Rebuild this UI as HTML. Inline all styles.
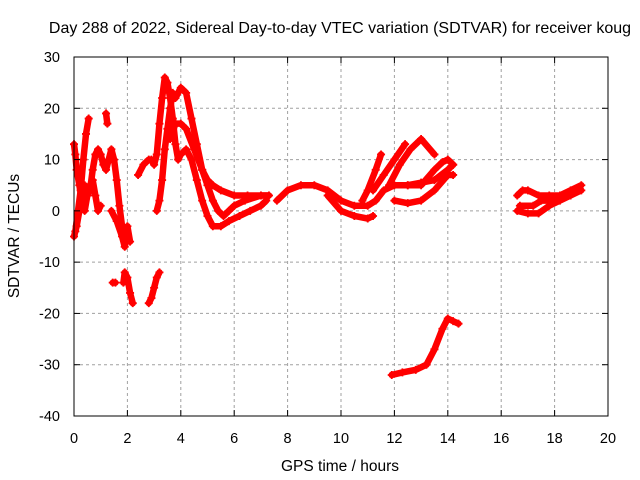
<!DOCTYPE html>
<html><head><meta charset="utf-8"><style>
body{margin:0;background:#fff}
svg{display:block;font-family:"Liberation Sans",sans-serif}
</style></head><body>
<svg id="chart" width="640" height="480">
<text x="340" y="33" font-size="16" text-anchor="middle">Day 288 of 2022, Sidereal Day-to-day VTEC variation (SDTVAR) for receiver koug</text>
<g id="grid"></g>
<g id="series"></g>
<rect x="74" y="57" width="534" height="359" fill="none" stroke="#000" stroke-width="1"/>
<g id="axes"></g>
<text x="340" y="471" font-size="15.5" text-anchor="middle">GPS time / hours</text>
<text transform="translate(19,236) rotate(-90)" font-size="15.5" text-anchor="middle">SDTVAR / TECUs</text>
</svg>
<script>
const xTicks=[0,2,4,6,8,10,12,14,16,18,20];
const yTicks=[30,20,10,0,-10,-20,-30,-40];
const track1=[[0,-5],[0.1,-3],[0.2,0],[0.3,3],[0.4,5],[0.5,3],[0.6,4],[0.7,8],[0.8,11],[0.9,12],[1.0,11],[1.1,9],[1.2,8],[1.3,10],[1.4,12],[1.5,10],[1.6,6],[1.7,1],[1.8,-3],[1.9,-6],[2.0,-3],[2.1,-6]];
const track2=[[0,13],[0.05,11],[0.1,8],[0.2,5],[0.3,2],[0.4,0],[0.5,3],[0.6,5],[0.7,6],[0.8,3],[0.9,0],[1.0,1]];
const track3=[[0.05,-4],[0.15,0],[0.25,4],[0.35,10],[0.45,15],[0.55,18]];
const track4=[[1.2,19],[1.25,17]];
const track5=[[1.45,-14],[1.55,-14]];
const track6=[[1.4,0],[1.6,-2],[1.8,-5],[1.9,-7],[2.0,-4]];
const track7=[[1.85,-14],[1.9,-12],[2.0,-13],[2.1,-16],[2.2,-18]];
const track8=[[2.8,-18],[2.9,-17],[3.0,-15],[3.1,-13],[3.2,-12]];
const track9=[[2.4,7],[2.6,9],[2.8,10],[2.9,10],[3.0,9],[3.1,11],[3.2,17],[3.3,22],[3.4,26],[3.5,25],[3.6,22],[3.7,18],[3.8,13],[3.9,10],[4.0,11],[4.2,12],[4.4,10],[4.6,6],[4.8,2],[5.0,-1],[5.2,-3],[5.5,-3],[5.8,-2],[6.2,-1],[6.6,0],[7.0,1],[7.2,2]];
const track10=[[3.1,0],[3.2,2],[3.3,6],[3.4,12],[3.5,16],[3.6,20],[3.7,23],[3.8,22],[4.0,24],[4.2,23],[4.4,18],[4.6,13],[4.8,8],[5.0,5],[5.2,2],[5.4,0],[5.6,-1],[5.8,0],[6.0,1],[6.4,2],[7.0,3],[7.3,3]];
const track11=[[3.6,14],[3.8,17],[4.0,17],[4.2,16],[4.5,12],[4.8,8],[5.0,6],[5.2,5],[5.5,4],[6.0,3],[6.5,3],[7.0,3],[7.3,3]];
const track12=[[7.6,2],[8.0,4],[8.5,5],[9.0,5],[9.5,4],[10.0,2],[10.5,1],[11,1],[11.3,2],[11.6,4],[12,5],[12.5,5],[13,5.5],[13.5,6],[14.0,8],[14.2,9]];
const track13=[[9.5,3],[10,0],[10.5,-1],[11,-1.5],[11.2,-1]];
const track14=[[10.8,2],[11.0,4],[11.3,8],[11.5,11]];
const track15=[[11.2,4],[11.6,7],[12,10],[12.4,13]];
const track16=[[11.8,5],[12.2,9],[12.6,12],[13.0,14],[13.5,11]];
const track17=[[12,2],[12.5,1.5],[13.0,2],[13.5,4],[14.0,7],[14.2,7]];
const track18=[[12.5,5],[13,5],[13.5,8],[13.8,9.5],[14.0,10],[14.2,9]];
const track19=[[11.9,-32],[12.3,-31.5],[12.8,-31],[13.2,-30],[13.5,-27],[13.8,-23],[14.0,-21],[14.2,-21.5],[14.4,-22]];
const track20=[[16.6,3],[16.8,4],[17.0,4],[17.4,3],[17.8,3],[18.2,3],[18.6,4],[19,5]];
const track21=[[16.6,0],[17,-0.5],[17.4,-0.5],[17.8,1],[18.2,2],[18.6,3],[19,4]];
const track22=[[16.7,1],[17.2,1],[17.5,2],[18,2],[18.5,3]];
const tracks=[track1,track2,track3,track4,track5,track6,track7,track8,track9,track10,track11,track12,track13,track14,track15,track16,track17,track18,track19,track20,track21,track22];

const NS='http://www.w3.org/2000/svg';
const X=h=>74+h*(534/20);
const Y=v=>57+(30-v)*(359/70);
function mk(tag,attrs,parent){const e=document.createElementNS(NS,tag);for(const k in attrs)e.setAttribute(k,attrs[k]);parent.appendChild(e);return e;}
const grid=document.getElementById('grid'),axes=document.getElementById('axes'),ser=document.getElementById('series');
xTicks.forEach(t=>{
  const x=X(t);
  if(t>0&&t<20){const g=mk('line',{x1:x,x2:x,y1:57,y2:416,stroke:'#a0a0a0','stroke-dasharray':'3,3'},grid);
  
  }
  mk('line',{x1:x,x2:x,y1:416,y2:410,stroke:'#000'},axes);
  mk('line',{x1:x,x2:x,y1:57,y2:63,stroke:'#000'},axes);
  const l=mk('text',{x:x,y:443,'font-size':14.5,'text-anchor':'middle'},axes);l.textContent=t;
  
  
});
yTicks.forEach(t=>{
  const y=Y(t);
  if(t<30&&t>-40){const g=mk('line',{x1:74,x2:608,y1:y,y2:y,stroke:'#a0a0a0','stroke-dasharray':'3,3'},grid);
  
  }
  mk('line',{x1:74,x2:80,y1:y,y2:y,stroke:'#000'},axes);
  mk('line',{x1:608,x2:602,y1:y,y2:y,stroke:'#000'},axes);
  const l=mk('text',{x:60,y:y+5,'font-size':14.5,'text-anchor':'end'},axes);l.textContent=t;
  
  
});
tracks.forEach(tr=>{
  const g=mk('g',{},ser);
  
  
  mk('polyline',{points:tr.map(p=>X(p[0])+','+Y(p[1])).join(' '),fill:'none',stroke:'#f00','stroke-width':6.5,'stroke-linejoin':'round','stroke-linecap':'round'},g);
  tr.forEach(p=>{const x=X(p[0]),y=Y(p[1]);
    mk('path',{d:`M${x-4},${y}H${x+4}M${x},${y-4}V${y+4}`,stroke:'#f00','stroke-width':1.8},g);});
});
</script>
</body></html>
